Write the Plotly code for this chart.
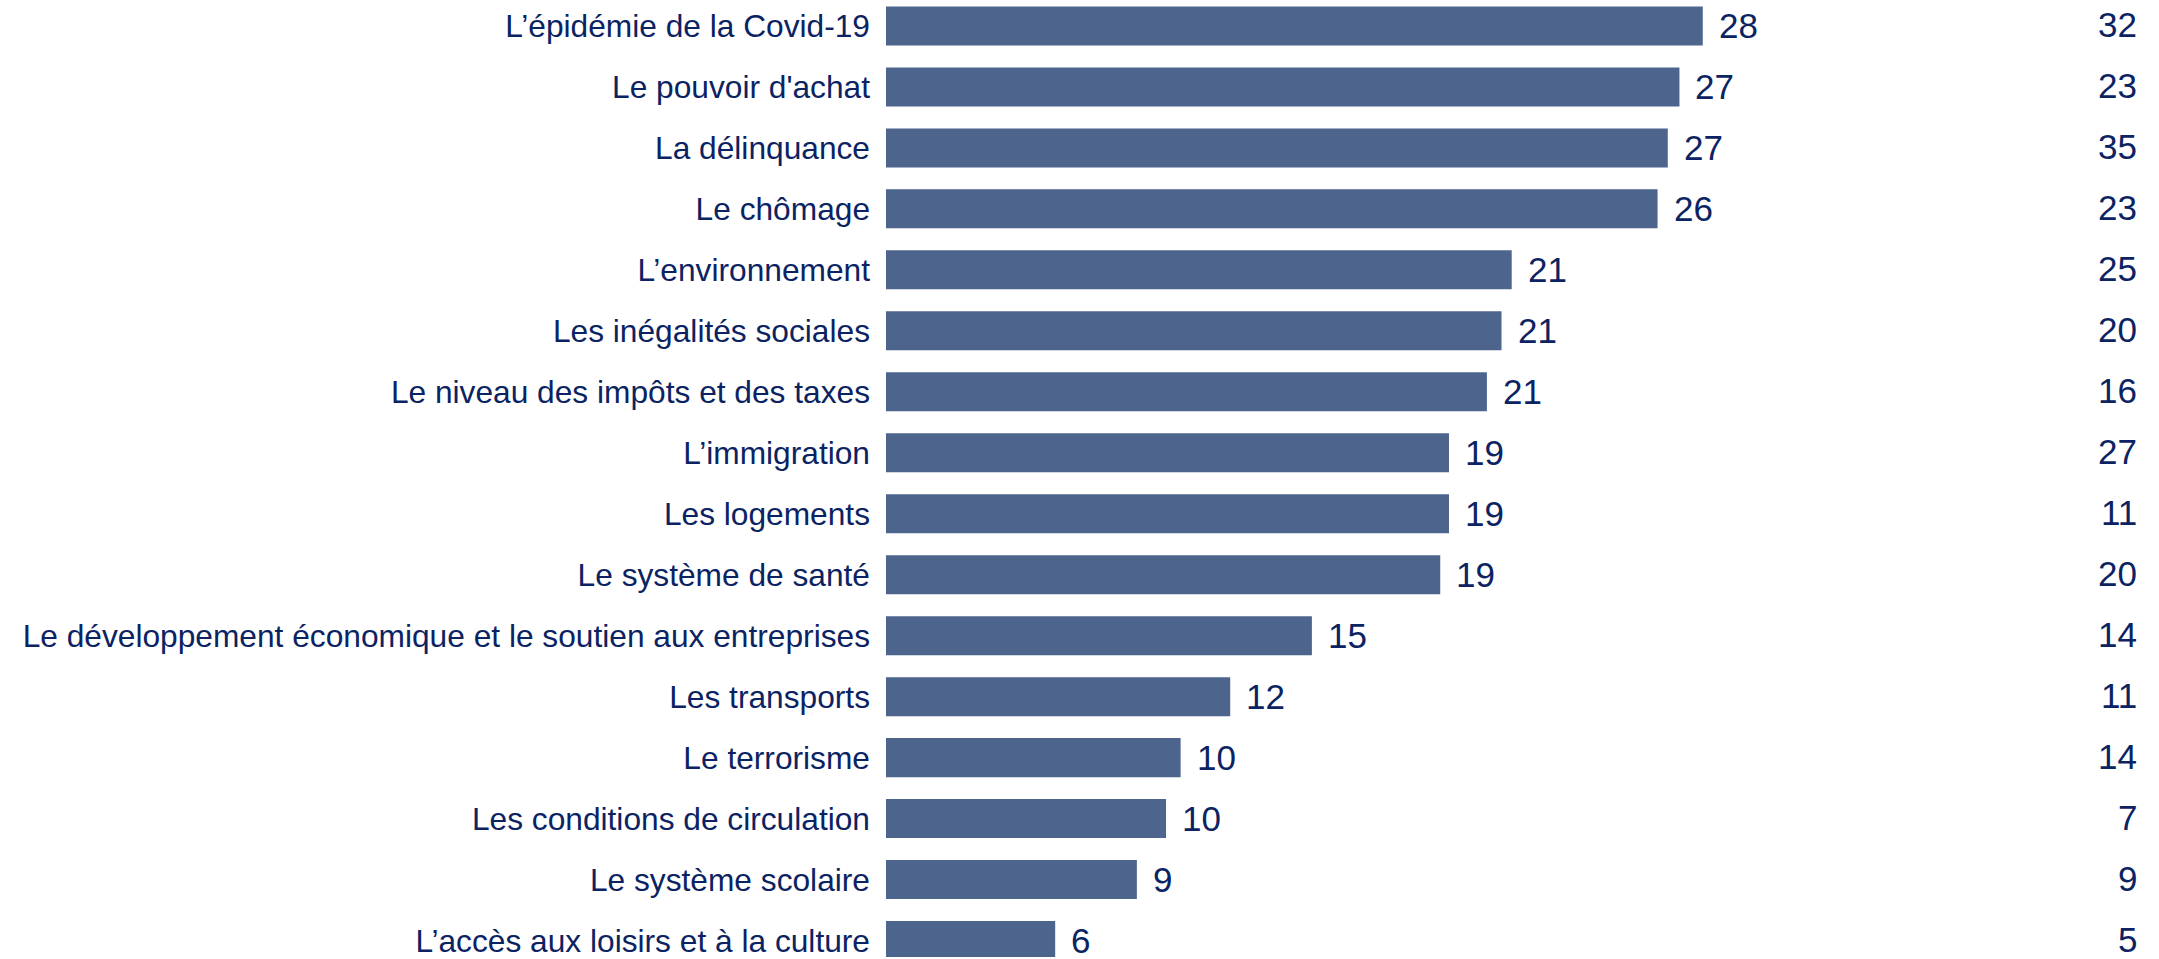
import plotly.graph_objects as go

categories = [
    "L’épidémie de la Covid-19",
    "Le pouvoir d'achat",
    "La délinquance",
    "Le chômage",
    "L’environnement",
    "Les inégalités sociales",
    "Le niveau des impôts et des taxes",
    "L’immigration",
    "Les logements",
    "Le système de santé",
    "Le développement économique et le soutien aux entreprises",
    "Les transports",
    "Le terrorisme",
    "Les conditions de circulation",
    "Le système scolaire",
    "L’accès aux loisirs et à la culture",
]
# bar lengths (labels show rounded values)
values = [28.0, 27.2, 26.8, 26.45, 21.45, 21.1, 20.6, 19.3, 19.3, 19.0,
          14.6, 11.8, 10.1, 9.6, 8.6, 5.8]
# second column of figures on the right
other_values = [32, 23, 35, 23, 25, 20, 16, 27, 11, 20, 14, 11, 14, 7, 9, 5]

BAR_COLOR = "#4D648D"
TEXT_COLOR = "#0B2362"
FONT = "Liberation Sans, Arial, sans-serif"

fig = go.Figure(go.Bar(
    x=values, y=categories, orientation="h",
    marker=dict(color=BAR_COLOR, line=dict(width=0)),
    hoverinfo="skip",
))

annotations = []
for cat, v in zip(categories, values):
    annotations.append(dict(
        x=v, y=cat, xref="x", yref="y", text=f"{v:.0f}",
        showarrow=False, xanchor="left", yanchor="middle", xshift=14,
        font=dict(family=FONT, size=35, color=TEXT_COLOR),
    ))
for cat, v in zip(categories, other_values):
    annotations.append(dict(
        x=1, y=cat, xref="paper", yref="y", text=str(v),
        showarrow=False, xanchor="right", yanchor="middle", xshift=-20, yshift=1,
        font=dict(family=FONT, size=35, color=TEXT_COLOR),
    ))

fig.update_layout(
    width=2159, height=959,
    margin=dict(l=886, r=0, t=0, b=0),
    paper_bgcolor="white", plot_bgcolor="white",
    bargap=0.36,
    showlegend=False,
    annotations=annotations,
    font=dict(family=FONT, color=TEXT_COLOR),
)
fig.update_xaxes(range=[0, 43.64], visible=False, showgrid=False, zeroline=False)
fig.update_yaxes(
    type="category", categoryorder="array", categoryarray=categories,
    range=[15.27, -0.4255],
    showgrid=False, zeroline=False, showline=False, ticks="",
    ticklabelstandoff=15,
    tickfont=dict(family=FONT, size=31.7, color=TEXT_COLOR),
)

fig.write_html(
    "out.html",
    config={"displayModeBar": False},
    post_script="document.body.style.margin='0';document.body.style.overflow='hidden';",
)
